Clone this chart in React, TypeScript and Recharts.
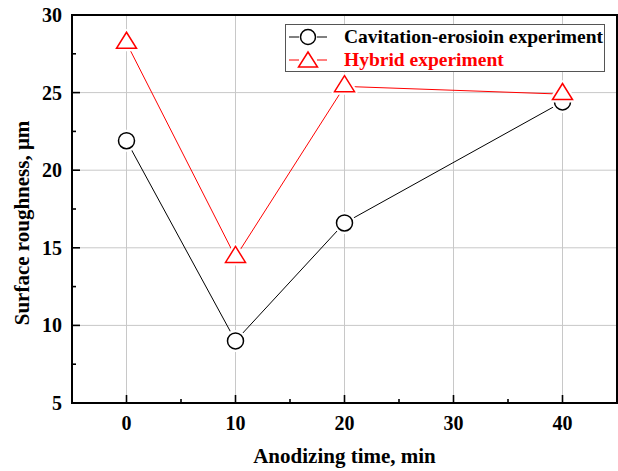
import {
  CartesianGrid,
  Label,
  Legend,
  Line,
  LineChart,
  ReferenceArea,
  XAxis,
  YAxis,
} from "recharts";

const times = [0, 10, 20, 40];
const cavitation = [21.9, 9.0, 16.6, 24.4];
const hybrid = [28.2, 14.4, 25.4, 24.9];

const xTicks = [0, 5, 10, 15, 20, 25, 30, 35, 40];
const yTicks = [5, 7.5, 10, 12.5, 15, 17.5, 20, 22.5, 25, 27.5, 30];
const xMajor = [0, 10, 20, 30, 40];
const yMajor = [5, 10, 15, 20, 25, 30];

const FONT = '"Liberation Serif", "Times New Roman", serif';
const RED = "#ff0000";

const data = times.map((t, i) => ({
  time: t,
  cavitation: cavitation[i],
  hybrid: hybrid[i],
}));

// markers sit on a thin white ring so the lines stop short of them
const CircleDot = (props: any) => {
  const { cx, cy, index } = props;
  if (cx == null || cy == null) return <g key={`c${index}`} />;
  return (
    <g key={`c${index}`}>
      <circle cx={cx} cy={cy} r={8} fill="#fff" stroke="#fff" strokeWidth={6} />
      <circle cx={cx} cy={cy} r={8} fill="#fff" stroke="#000" strokeWidth={1.5} />
    </g>
  );
};

const triPath = (cx: number, cy: number, w: number, h: number) =>
  `M${cx},${cy - (2 * h) / 3} L${cx + w / 2},${cy + h / 3} L${cx - w / 2},${cy + h / 3} Z`;

const TriDot = (props: any) => {
  const { cx, cy, index } = props;
  if (cx == null || cy == null) return <g key={`t${index}`} />;
  return (
    <g key={`t${index}`}>
      <path d={triPath(cx, cy, 20, 16)} fill="#fff" stroke="#fff" strokeWidth={6} strokeLinejoin="round" />
      <path d={triPath(cx, cy, 20, 16)} fill="#fff" stroke={RED} strokeWidth={1.5} />
    </g>
  );
};

const XTick = ({ x, y, payload }: any) => {
  const major = xMajor.includes(payload.value);
  return (
    <g>
      <line x1={x} y1={y} x2={x} y2={y - (major ? 8 : 4)} stroke="#000" strokeWidth={1.6} />
      {major && (
        <text x={x} y={y + 27} textAnchor="middle" fontFamily={FONT} fontWeight="bold" fontSize={20} fill="#000">
          {payload.value}
        </text>
      )}
    </g>
  );
};

const YTick = ({ x, y, payload }: any) => {
  const major = yMajor.includes(payload.value);
  return (
    <g>
      <line x1={x} y1={y} x2={x + (major ? 8 : 4)} y2={y} stroke="#000" strokeWidth={1.6} />
      {major && (
        <text x={x - 10} y={y} dy="0.35em" textAnchor="end" fontFamily={FONT} fontWeight="bold" fontSize={20} fill="#000">
          {payload.value}
        </text>
      )}
    </g>
  );
};

const YTitle = ({ viewBox }: any) => {
  const cx = viewBox.x + 22;
  const cy = viewBox.y + viewBox.height / 2 + 14;
  return (
    <text
      x={cx}
      y={cy}
      dy="0.35em"
      transform={`rotate(-90 ${cx} ${cy})`}
      textAnchor="middle"
      fontFamily={FONT}
      fontWeight="bold"
      fontSize={21}
      fill="#000"
    >
      Surface roughness, μm
    </text>
  );
};

const legendItems = [
  { name: "Cavitation-erosioin experiment", color: "#000", shape: "circle" },
  { name: "Hybrid experiment", color: RED, shape: "triangle" },
];

const renderLegend = () => (
  <div
    style={{
      boxSizing: "border-box",
      width: 320,
      height: 48,
      border: "1.5px solid #555",
      background: "#fff",
    }}
  >
    {legendItems.map((it) => (
      <div key={it.name} style={{ display: "flex", alignItems: "center", height: 23 }}>
        <svg width={40} height={22} style={{ marginLeft: 2, flex: "none" }}>
          <line x1={1} y1={11} x2={11} y2={11} stroke={it.color} strokeWidth={1} />
          <line x1={29} y1={11} x2={39} y2={11} stroke={it.color} strokeWidth={1} />
          {it.shape === "circle" ? (
            <circle cx={20} cy={11} r={7.5} fill="#fff" stroke={it.color} strokeWidth={1.5} />
          ) : (
            <path d={triPath(20, 13, 19, 15)} fill="#fff" stroke={it.color} strokeWidth={1.5} />
          )}
        </svg>
        <span
          style={{
            marginLeft: 16,
            fontFamily: FONT,
            fontWeight: "bold",
            fontSize: 19.5,
            color: it.color,
            whiteSpace: "nowrap",
            lineHeight: "22px",
          }}
        >
          {it.name}
        </span>
      </div>
    ))}
  </div>
);

export default function App() {
  return (
    <div style={{ position: "absolute", left: 0, top: 0, background: "#fff" }}>
      <LineChart width={618} height={471} data={data} margin={{ top: 15, right: 1, bottom: 0, left: 0 }}>
        <CartesianGrid
          stroke="#c8c8c8"
          strokeWidth={1}
          verticalValues={xMajor}
          horizontalValues={[10, 15, 20, 25]}
        />
        <XAxis
          type="number"
          dataKey="time"
          domain={[-5, 45]}
          ticks={xTicks}
          interval={0}
          height={68}
          tickSize={0}
          tickMargin={0}
          tickLine={false}
          tick={<XTick />}
          axisLine={{ stroke: "#000", strokeWidth: 2 }}
        >
          <Label
            value="Anodizing time, min"
            position="insideBottom"
            offset={8}
            style={{ fontFamily: FONT, fontWeight: "bold", fontSize: 21, fill: "#000" }}
          />
        </XAxis>
        <YAxis
          type="number"
          domain={[5, 30]}
          ticks={yTicks}
          interval={0}
          width={72}
          tickSize={0}
          tickMargin={0}
          tickLine={false}
          tick={<YTick />}
          axisLine={{ stroke: "#000", strokeWidth: 2 }}
        >
          <Label content={<YTitle />} />
        </YAxis>
        <ReferenceArea x1={-5} x2={45} y1={5} y2={30} fill="none" stroke="#000" strokeWidth={2} ifOverflow="visible" />
        <Line
          dataKey="cavitation"
          stroke="#000"
          strokeWidth={1}
          dot={CircleDot}
          activeDot={false}
          isAnimationActive={false}
        />
        <Line
          dataKey="hybrid"
          stroke={RED}
          strokeWidth={1}
          dot={TriDot}
          activeDot={false}
          isAnimationActive={false}
        />
        <Legend
          layout="vertical"
          align="center"
          verticalAlign="middle"
          content={renderLegend}
          wrapperStyle={{ left: 285, top: 24, width: 320, height: 48 }}
        />
      </LineChart>
    </div>
  );
}
